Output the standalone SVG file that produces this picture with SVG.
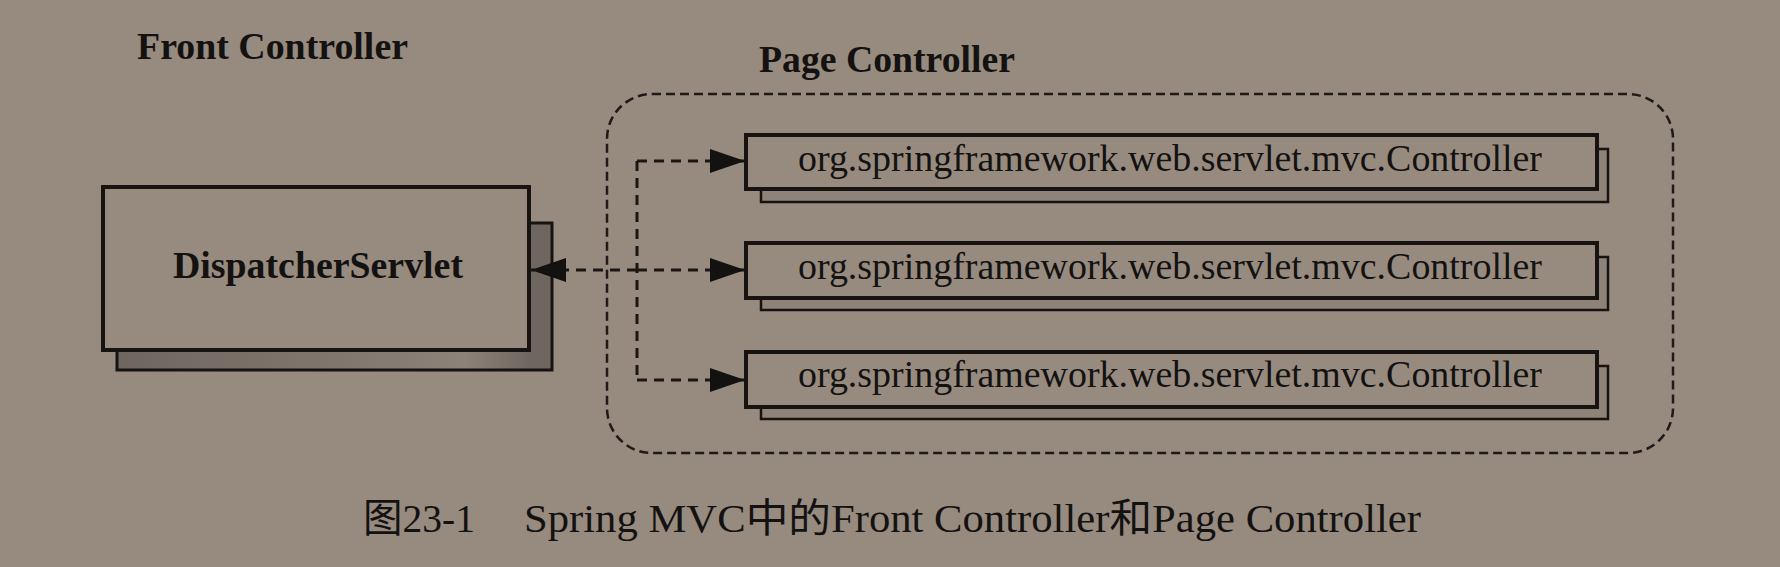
<svg xmlns="http://www.w3.org/2000/svg" width="1780" height="567" viewBox="0 0 1780 567">
<style>
.bg{fill:#978b80}
.box{fill:#978b80;stroke:#161311;stroke-width:4}
.shadow{fill:url(#dshade);stroke:#161311;stroke-width:3}
.cshadow{fill:#8e8379;stroke:#161311;stroke-width:2.5}
.group{fill:none;stroke:#1e1a17;stroke-width:2.5;stroke-dasharray:9 5}
.conn{fill:none;stroke:#1a1613;stroke-width:3;stroke-dasharray:10 7}
.title{font-family:"Liberation Serif","Times New Roman",serif;font-weight:bold;font-size:37px;fill:#141210}
.label{font-family:"Liberation Serif","Times New Roman",serif;font-size:38px;fill:#141210}
.blabel{font-family:"Liberation Serif","Times New Roman",serif;font-weight:bold;font-size:38px;fill:#141210}
.caption{font-family:"Liberation Serif","Noto Sans CJK SC",serif;font-size:40px;fill:#141210}
</style>
<defs>
<linearGradient id="dshade" x1="0" y1="0" x2="1" y2="0">
<stop offset="0" stop-color="#6f665f"/>
<stop offset="0.45" stop-color="#7e746c"/>
<stop offset="0.8" stop-color="#8d8278"/>
<stop offset="0.95" stop-color="#6f665f"/>
</linearGradient>
<marker id="arrow" viewBox="0 0 35 24" refX="35" refY="12" markerWidth="35" markerHeight="24" markerUnits="userSpaceOnUse" orient="auto">
<path d="M0,0 L35,12 L0,24 z" fill="#141210"/>
</marker>
</defs>
<rect class="bg" x="0" y="0" width="1780" height="567"/>

<text class="title" x="137" y="59" textLength="271" lengthAdjust="spacingAndGlyphs">Front Controller</text>
<text class="title" x="759" y="72" textLength="256" lengthAdjust="spacingAndGlyphs">Page Controller</text>

<g id="page-controller-group">
<rect class="group" x="607" y="94" width="1066" height="359" rx="45" ry="45"/>
</g>

<g id="dispatcher-servlet">
<rect class="shadow" x="117" y="223" width="435" height="147"/>
<rect class="box" x="103" y="187" width="426" height="163"/>
<text class="blabel" x="318" y="278" text-anchor="middle" textLength="290" lengthAdjust="spacingAndGlyphs">DispatcherServlet</text>
</g>

<g id="controller-1">
<rect class="cshadow" x="761" y="149" width="847" height="53"/>
<rect class="box" x="746" y="135" width="851" height="54"/>
<text class="label" x="798" y="171" textLength="744" lengthAdjust="spacingAndGlyphs">org.springframework.web.servlet.mvc.Controller</text>
</g>

<g id="controller-2">
<rect class="cshadow" x="761" y="257" width="847" height="53"/>
<rect class="box" x="746" y="243" width="851" height="55"/>
<text class="label" x="798" y="279" textLength="744" lengthAdjust="spacingAndGlyphs">org.springframework.web.servlet.mvc.Controller</text>
</g>

<g id="controller-3">
<rect class="cshadow" x="761" y="366" width="847" height="53"/>
<rect class="box" x="746" y="352" width="851" height="55"/>
<text class="label" x="798" y="387" textLength="744" lengthAdjust="spacingAndGlyphs">org.springframework.web.servlet.mvc.Controller</text>
</g>

<g id="connectors">
<path class="conn" d="M637,161 L637,380"/>
<path class="conn" d="M637,270 L531,270" marker-end="url(#arrow)"/>
<path class="conn" d="M637,161 L745,161" marker-end="url(#arrow)"/>
<path class="conn" d="M637,270 L745,270" marker-end="url(#arrow)"/>
<path class="conn" d="M637,380 L745,380" marker-end="url(#arrow)"/>
</g>

<text class="caption" x="363" y="532" textLength="112" lengthAdjust="spacingAndGlyphs">图23-1</text>
<text class="caption" x="524" y="532" textLength="897" lengthAdjust="spacingAndGlyphs">Spring MVC中的Front Controller和Page Controller</text>
</svg>
